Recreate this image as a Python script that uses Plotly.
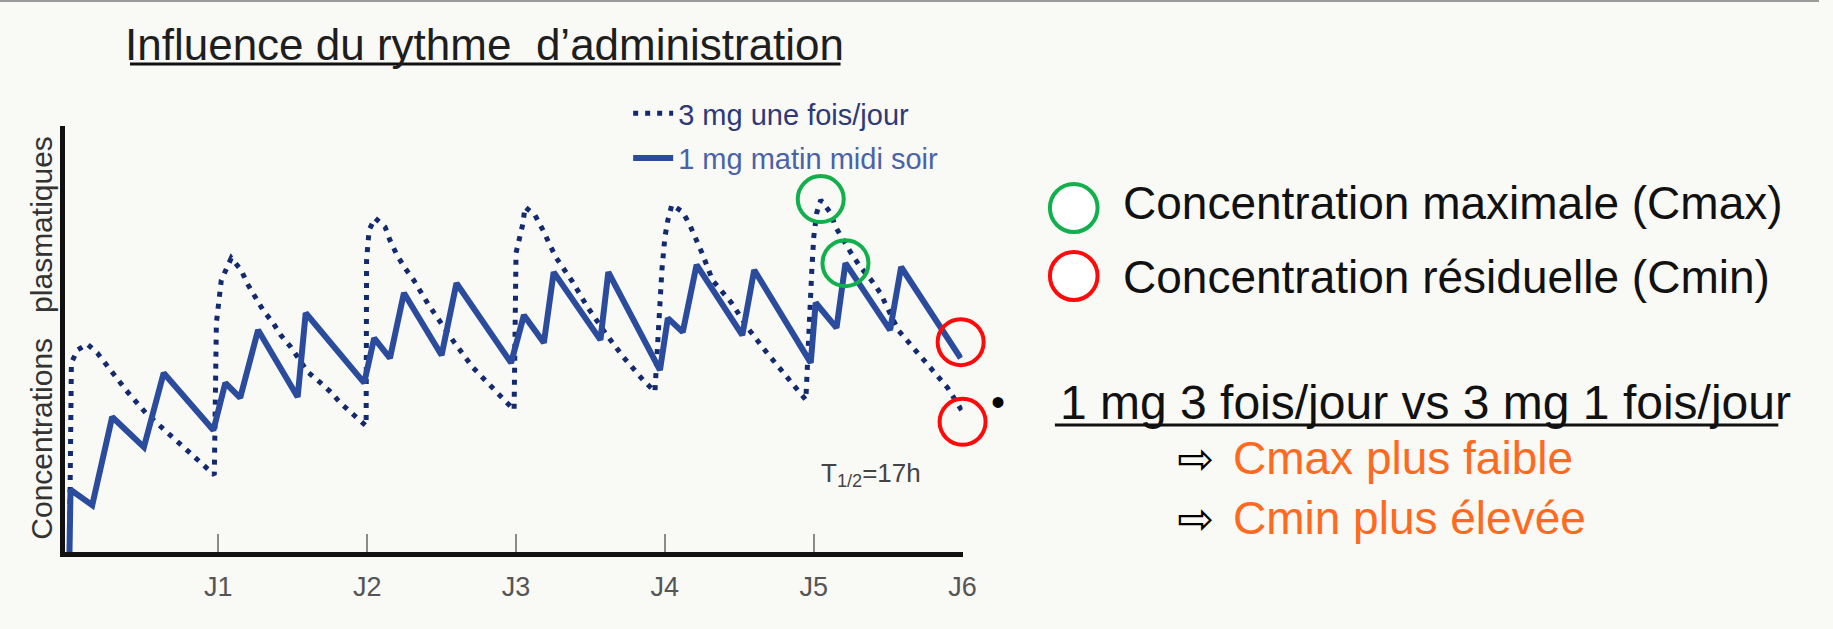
import numpy as np
import plotly.graph_objects as go

W, H = 1833, 629

# ---------------- data (x in days, y in arbitrary concentration units) ----------------
days = [1, 2, 3, 4, 5, 6]
day_labels = ["J1", "J2", "J3", "J4", "J5", "J6"]

# 3 mg une fois/jour (dotted)
once_x = [0, 0.013, 0.053, 0.12, 0.187, 0.38, 0.513, 0.733, 0.887, 0.973,
          0.987, 1.02, 1.087, 1.153, 1.2, 1.247, 1.3, 1.367, 1.42, 1.487, 1.6, 1.687, 1.753, 1.82, 1.9, 1.993,
          1.996, 2.013, 2.053, 2.12, 2.153, 2.2, 2.253, 2.313, 2.413, 2.587, 2.713, 2.847, 2.92, 2.987,
          3.0, 3.02, 3.047, 3.06, 3.127, 3.18, 3.267, 3.38, 3.48, 3.6, 3.72, 3.853, 3.933,
          3.98, 4.0, 4.02, 4.047, 4.12, 4.167, 4.247, 4.32, 4.447, 4.567, 4.687, 4.82, 4.947,
          4.987, 5.0, 5.02, 5.047, 5.113, 5.147, 5.247, 5.313, 5.387, 5.447, 5.567, 5.7, 5.833, 5.9, 6.0]
once_y = [0, 4.44, 4.74, 4.88, 4.67, 3.80, 3.26, 2.56, 2.07, 1.81,
          5.38, 6.38, 6.90, 6.62, 6.27, 5.99, 5.68, 5.38, 5.09, 4.81, 4.23, 3.97, 3.76, 3.50, 3.26, 2.96,
          6.85, 7.56, 7.84, 7.63, 7.32, 6.97, 6.67, 6.38, 5.80, 4.91, 4.32, 3.85, 3.57, 3.33,
          7.02, 7.32, 7.72, 8.10, 7.91, 7.56, 6.92, 6.34, 5.75, 5.14, 4.58, 4.04, 3.76,
          6.62, 7.39, 7.79, 8.15, 7.98, 7.68, 7.04, 6.38, 5.85, 5.21, 4.67, 4.11, 3.57,
          6.62, 7.39, 7.96, 8.26, 7.96, 7.63, 7.04, 6.69, 6.38, 6.08, 5.21, 4.67, 4.11, 3.85, 3.29]

# 1 mg matin midi soir (solid)
tid_x = [0, 0.007, 0.153, 0.287, 0.5, 0.633, 0.967,
         1.047, 1.147, 1.267, 1.533, 1.587, 1.98,
         2.047, 2.153, 2.247, 2.5, 2.6, 2.967,
         3.053, 3.187, 3.253, 3.567, 3.62, 3.967,
         4.02, 4.12, 4.213, 4.52, 4.6, 4.98,
         5.013, 5.153, 5.213, 5.513, 5.587, 5.987]
tid_y = [0, 1.46, 1.10, 3.17, 2.46, 4.20, 2.86,
         3.97, 3.62, 5.21, 3.64, 5.61, 3.97,
         5.02, 4.55, 6.08, 4.62, 6.31, 4.44,
         5.56, 4.91, 6.57, 4.98, 6.57, 4.27,
         5.49, 5.16, 6.74, 5.09, 6.62, 4.44,
         5.85, 5.26, 6.78, 5.21, 6.69, 4.55]

# ---------------- layout helpers ----------------
def px(x):
    return x / W

def py(y):
    return 1 - y / H

X0_PX, X1_PX = 66, 970          # x-axis domain in pixels
Y0_PX, Y1_PX = 552, 126         # y-axis domain in pixels (bottom, top)
X_RANGE = [-4 / 150, 6]
Y_RANGE = [0, 10]
Y_UNIT_PX = (Y0_PX - Y1_PX) / (Y_RANGE[1] - Y_RANGE[0])

FONT = "Liberation Sans, Arial, Helvetica, sans-serif"
NAVY = "#142a6e"
BLUE = "#2b4c9d"
GREEN = "#12b04c"
RED = "#ff0a0a"
ORANGE = "#ff6a1f"
BG = "#f9f9f6"

fig = go.Figure()

fig.add_trace(go.Scatter(
    x=once_x, y=once_y, mode="lines", legendgroup="once",
    name="<span style='color:#2e3a78'>3 mg une fois/jour</span>",
    line=dict(color=NAVY, width=5, dash="5px,7px"),
    hoverinfo="skip",
))
fig.add_trace(go.Scatter(
    x=tid_x, y=tid_y, mode="lines", legendgroup="tid",
    name="<span style='color:#4a62a8'>1 mg matin midi soir</span>",
    line=dict(color=BLUE, width=6),
    hoverinfo="skip",
))

# circles marking Cmax / Cmin, anchored on the data
i_once_max = int(np.argmax(once_y))
i_tid_max = int(np.argmax(tid_y))
cmax_x = [once_x[i_once_max], tid_x[i_tid_max]]
cmax_y = [once_y[i_once_max] + 1 / Y_UNIT_PX, tid_y[i_tid_max]]
cmin_x = [tid_x[-1], once_x[-1]]
cmin_y = [tid_y[-1] + 16 / Y_UNIT_PX, once_y[-1] - 10 / Y_UNIT_PX]

fig.add_trace(go.Scatter(
    x=cmax_x, y=cmax_y, mode="markers", showlegend=False, hoverinfo="skip",
    cliponaxis=False,
    marker=dict(symbol="circle-open", size=46, color=GREEN, line=dict(width=4, color=GREEN)),
))
fig.add_trace(go.Scatter(
    x=cmin_x, y=cmin_y, mode="markers", showlegend=False, hoverinfo="skip",
    cliponaxis=False,
    marker=dict(symbol="circle-open", size=46, color=RED, line=dict(width=4, color=RED)),
))

shapes = []
annotations = []

# top border line
shapes.append(dict(type="line", xref="paper", yref="paper", x0=0, x1=1, y0=py(1), y1=py(1),
                   line=dict(color="#9a9a9a", width=2)))

# title + underline
annotations.append(dict(xref="paper", yref="paper", x=px(488), y=py(44), xanchor="center", yanchor="middle",
                        text="Influence du rythme\u00a0\u00a0d’administration", showarrow=False,
                        font=dict(family=FONT, size=44, color="#1e1e1e")))
shapes.append(dict(type="line", xref="paper", yref="paper", x0=px(131), x1=px(847), y0=py(64), y1=py(64),
                   line=dict(color="#111", width=3)))

# y-axis title
annotations.append(dict(xref="paper", yref="paper", x=px(41), y=py(338), xanchor="center", yanchor="middle",
                        text="Concentrations\u00a0\u00a0\u00a0plasmatiques", textangle=-90, showarrow=False,
                        font=dict(family=FONT, size=30, color="#333")))

# half-life note
annotations.append(dict(xref="paper", yref="paper", x=px(878), y=py(474), xanchor="center", yanchor="middle",
                        text="T<sub>1/2</sub>=17h", showarrow=False,
                        font=dict(family=FONT, size=26, color="#444")))

# right-hand legend of circles
for cy, col, txt, ty in [(208, GREEN, "Concentration maximale (Cmax)", 203),
                         (276, RED, "Concentration résiduelle (Cmin)", 277)]:
    shapes.append(dict(type="circle", xref="paper", yref="paper",
                       x0=px(1082 - 24), x1=px(1082 + 24), y0=py(cy + 24), y1=py(cy - 24),
                       fillcolor="#ffffff", line=dict(color=col, width=4)))
    annotations.append(dict(xref="paper", yref="paper", x=px(1130), y=py(ty), xanchor="left", yanchor="middle",
                            text=txt, showarrow=False, font=dict(family=FONT, size=46, color="#111")))

# comparison line
annotations.append(dict(xref="paper", yref="paper", x=px(1006), y=py(402), xanchor="center", yanchor="middle",
                        text="•", showarrow=False, font=dict(family=FONT, size=40, color="#000")))
annotations.append(dict(xref="paper", yref="paper", x=px(1066), y=py(402), xanchor="left", yanchor="middle",
                        text="1 mg 3 fois/jour vs 3 mg 1 fois/jour", showarrow=False,
                        font=dict(family=FONT, size=48, color="#111")))
shapes.append(dict(type="line", xref="paper", yref="paper", x0=px(1063), x1=px(1792), y0=py(425), y1=py(425),
                   line=dict(color="#111", width=3)))

for ty, txt in [(458, "Cmax plus faible"), (518, "Cmin plus élevée")]:
    annotations.append(dict(xref="paper", yref="paper", x=px(1205), y=py(ty), xanchor="center", yanchor="middle",
                            text="⇨", showarrow=False, font=dict(family="DejaVu Sans", size=44, color="#000")))
    annotations.append(dict(xref="paper", yref="paper", x=px(1240), y=py(ty), xanchor="left", yanchor="middle",
                            text=txt, showarrow=False, font=dict(family=FONT, size=46, color=ORANGE)))

fig.update_layout(
    width=W, height=H,
    margin=dict(l=0, r=0, t=0, b=0),
    paper_bgcolor=BG, plot_bgcolor=BG,
    showlegend=True,
    legend=dict(x=px(633), y=py(88), xanchor="left", yanchor="top",
                bgcolor="rgba(0,0,0,0)", font=dict(family=FONT, size=29),
                itemwidth=40, tracegroupgap=4),
    xaxis=dict(domain=[px(X0_PX), px(X1_PX)], range=X_RANGE,
               tickvals=days, ticktext=day_labels,
               ticks="inside", ticklen=18, tickwidth=2, tickcolor="#8a8a8a",
               tickfont=dict(family=FONT, size=27, color="#555"), ticklabelstandoff=7,
               showline=True, linewidth=5, linecolor="#111",
               showgrid=False, zeroline=False, fixedrange=True),
    yaxis=dict(domain=[py(Y0_PX), py(Y1_PX)], range=Y_RANGE,
               showticklabels=False, ticks="",
               showline=True, linewidth=5, linecolor="#111",
               showgrid=False, zeroline=False, fixedrange=True),
    shapes=shapes,
    annotations=annotations,
)

fig.write_html("out.html", config={"displayModeBar": False},
               post_script="document.body.style.margin='0px';document.body.style.background='#f9f9f6';")
